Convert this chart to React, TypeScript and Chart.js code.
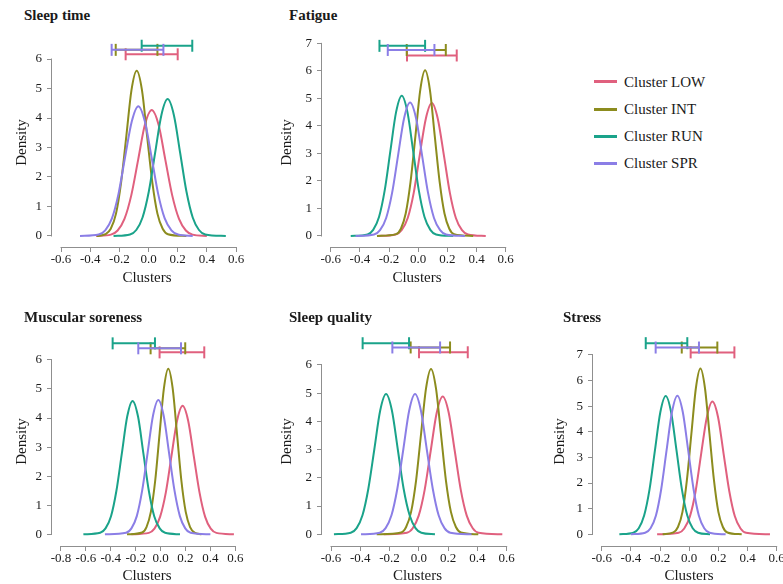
import React, { useEffect, useRef } from "react";
import { Chart, registerables } from "chart.js";

Chart.register(...registerables);

const SERIF = "'Liberation Serif', 'Times New Roman', serif";
const TEXT = "#1a1a1a";
const AXIS = "#8f8f8f";

const clusterNames = ["Cluster LOW", "Cluster INT", "Cluster RUN", "Cluster SPR"];
const clusterColors = ["#E0607E", "#8C8C1E", "#1AA38A", "#8B7EE6"];

const xTicksStd = [-0.6, -0.4, -0.2, 0, 0.2, 0.4, 0.6];
const xTicksWide = [-0.8, -0.6, -0.4, -0.2, 0, 0.2, 0.4, 0.6];
const yTicks6 = [0, 1, 2, 3, 4, 5, 6];
const yTicks7 = [0, 1, 2, 3, 4, 5, 6, 7];

// ---- Sleep time: posterior densities [x, density] ----
const sleepTimeLow = [[-0.36,0],[-0.258,0.047],[-0.212,0.187],[-0.165,0.578],[-0.118,1.386],[-0.071,2.59],[-0.025,3.768],[0.022,4.27],[0.069,3.768],[0.115,2.59],[0.162,1.386],[0.209,0.578],[0.256,0.187],[0.302,0.047],[0.40,0]];
const sleepTimeInt = [[-0.355,0],[-0.295,0.062],[-0.259,0.246],[-0.223,0.758],[-0.188,1.818],[-0.152,3.396],[-0.117,4.942],[-0.081,5.6],[-0.045,4.942],[-0.01,3.396],[0.026,1.818],[0.061,0.758],[0.097,0.246],[0.133,0.062],[0.26,0]];
const sleepTimeRun = [[-0.24,0],[-0.127,0.052],[-0.084,0.204],[-0.041,0.628],[0.002,1.507],[0.045,2.814],[0.088,4.095],[0.131,4.64],[0.174,4.095],[0.217,2.814],[0.26,1.507],[0.303,0.628],[0.346,0.204],[0.389,0.052],[0.53,0]];
const sleepTimeSpr = [[-0.47,0],[-0.342,0.049],[-0.297,0.193],[-0.251,0.595],[-0.206,1.429],[-0.161,2.669],[-0.115,3.883],[-0.07,4.4],[-0.025,3.883],[0.021,2.669],[0.066,1.429],[0.111,0.595],[0.157,0.193],[0.202,0.049],[0.303,0]];
const sleepTimeCI = [[-0.157,0.2],[-0.225,0.061],[-0.047,0.3],[-0.253,0.102]];
const sleepTimeCIy = [6.16, 6.31, 6.45, 6.31];

// ---- Fatigue ----
const fatigueLow = [[-0.28,0],[-0.155,0.054],[-0.114,0.212],[-0.072,0.654],[-0.031,1.568],[0.01,2.929],[0.052,4.263],[0.093,4.83],[0.134,4.263],[0.176,2.929],[0.217,1.568],[0.258,0.654],[0.3,0.212],[0.341,0.054],[0.463,0]];
const fatigueInt = [[-0.283,0],[-0.152,0.067],[-0.119,0.264],[-0.086,0.815],[-0.053,1.955],[-0.019,3.651],[0.014,5.313],[0.047,6.02],[0.08,5.313],[0.113,3.651],[0.147,1.955],[0.18,0.815],[0.213,0.264],[0.246,0.067],[0.377,0]];
const fatigueRun = [[-0.463,0],[-0.348,0.057],[-0.309,0.224],[-0.269,0.69],[-0.23,1.656],[-0.191,3.093],[-0.152,4.501],[-0.113,5.1],[-0.074,4.501],[-0.035,3.093],[0.004,1.656],[0.043,0.69],[0.083,0.224],[0.122,0.057],[0.24,0]];
const fatigueSpr = [[-0.43,0],[-0.303,0.054],[-0.262,0.213],[-0.22,0.656],[-0.179,1.575],[-0.138,2.942],[-0.097,4.28],[-0.056,4.85],[-0.015,4.28],[0.026,2.942],[0.067,1.575],[0.108,0.656],[0.15,0.213],[0.191,0.054],[0.32,0]];
const fatigueCI = [[-0.077,0.264],[-0.079,0.189],[-0.266,0.047],[-0.209,0.111]];
const fatigueCIy = [6.56, 6.76, 6.91, 6.76];

// ---- Muscular soreness ----
const sorenessLow = [[-0.235,0],[-0.094,0.049],[-0.049,0.194],[-0.004,0.598],[0.042,1.435],[0.087,2.681],[0.132,3.901],[0.177,4.42],[0.222,3.901],[0.267,2.681],[0.313,1.435],[0.358,0.598],[0.403,0.194],[0.448,0.049],[0.589,0]];
const sorenessInt = [[-0.27,0],[-0.148,0.063],[-0.113,0.25],[-0.078,0.771],[-0.043,1.851],[-0.008,3.457],[0.027,5.03],[0.062,5.7],[0.097,5.03],[0.132,3.457],[0.167,1.851],[0.202,0.771],[0.237,0.25],[0.272,0.063],[0.33,0]];
const sorenessRun = [[-0.62,0],[-0.485,0.051],[-0.442,0.202],[-0.398,0.621],[-0.355,1.49],[-0.311,2.784],[-0.268,4.051],[-0.225,4.59],[-0.181,4.051],[-0.138,2.784],[-0.094,1.49],[-0.051,0.621],[-0.007,0.202],[0.036,0.051],[0.156,0]];
const sorenessSpr = [[-0.447,0],[-0.277,0.051],[-0.234,0.203],[-0.191,0.625],[-0.148,1.5],[-0.104,2.802],[-0.061,4.077],[-0.018,4.62],[0.025,4.077],[0.068,2.802],[0.112,1.5],[0.155,0.625],[0.198,0.203],[0.241,0.051],[0.40,0]];
const sorenessCI = [[-0.008,0.351],[-0.08,0.198],[-0.385,-0.045],[-0.179,0.164]];
const sorenessCIy = [6.26, 6.4, 6.57, 6.4];

// ---- Sleep quality ----
const qualityLow = [[-0.24,0],[-0.082,0.054],[-0.042,0.214],[-0.001,0.66],[0.04,1.585],[0.081,2.96],[0.122,4.307],[0.163,4.88],[0.204,4.307],[0.245,2.96],[0.286,1.585],[0.327,0.66],[0.368,0.214],[0.408,0.054],[0.57,0]];
const qualityInt = [[-0.288,0],[-0.121,0.065],[-0.087,0.257],[-0.053,0.793],[-0.019,1.903],[0.015,3.554],[0.049,5.172],[0.083,5.86],[0.117,5.172],[0.151,3.554],[0.185,1.903],[0.219,0.793],[0.253,0.257],[0.287,0.065],[0.406,0]];
const qualityRun = [[-0.58,0],[-0.465,0.055],[-0.425,0.218],[-0.385,0.672],[-0.345,1.614],[-0.304,3.014],[-0.264,4.386],[-0.224,4.97],[-0.184,4.386],[-0.144,3.014],[-0.104,1.614],[-0.063,0.672],[-0.023,0.218],[0.017,0.055],[0.11,0]];
const qualitySpr = [[-0.395,0],[-0.267,0.055],[-0.227,0.218],[-0.187,0.672],[-0.147,1.614],[-0.106,3.014],[-0.066,4.386],[-0.026,4.97],[0.014,4.386],[0.054,3.014],[0.095,1.614],[0.135,0.672],[0.175,0.218],[0.215,0.055],[0.36,0]];
const qualityCI = [[0.001,0.334],[-0.056,0.213],[-0.384,-0.067],[-0.181,0.145]];
const qualityCIy = [6.45, 6.62, 6.77, 6.62];

// ---- Stress ----
const stressLow = [[-0.22,0],[-0.072,0.058],[-0.034,0.227],[0.005,0.701],[0.044,1.682],[0.082,3.142],[0.121,4.571],[0.159,5.18],[0.198,4.571],[0.236,3.142],[0.275,1.682],[0.313,0.701],[0.352,0.227],[0.39,0.058],[0.554,0]];
const stressInt = [[-0.182,0],[-0.108,0.072],[-0.077,0.284],[-0.046,0.875],[-0.016,2.101],[0.015,3.924],[0.046,5.71],[0.077,6.47],[0.108,5.71],[0.139,3.924],[0.17,2.101],[0.2,0.875],[0.231,0.284],[0.262,0.072],[0.36,0]];
const stressRun = [[-0.479,0],[-0.383,0.06],[-0.346,0.237],[-0.309,0.731],[-0.272,1.753],[-0.235,3.275],[-0.198,4.766],[-0.161,5.4],[-0.124,4.766],[-0.087,3.275],[-0.05,1.753],[-0.013,0.731],[0.024,0.237],[0.061,0.06],[0.143,0]];
const stressSpr = [[-0.40,0],[-0.302,0.06],[-0.265,0.238],[-0.228,0.732],[-0.192,1.757],[-0.155,3.281],[-0.118,4.774],[-0.081,5.41],[-0.044,4.774],[-0.007,3.281],[0.03,1.757],[0.066,0.732],[0.103,0.238],[0.14,0.06],[0.25,0]];
const stressCI = [[0.01,0.31],[-0.051,0.193],[-0.298,-0.013],[-0.23,0.067]];
const stressCIy = [7.1, 7.29, 7.46, 7.29];

type PanelCfg = {
  title: string;
  titleLeft: number;
  titleTop: number;
  curves: number[][][];
  ci: number[][];
  ciY: number[];
  xTicks: number[];
  yTicks: number[];
  xMin: number; xMax: number; yMin: number; yMax: number;
  left: number; top: number; w: number; h: number;
  yAxisW: number; xAxisH: number;
};

const PAD_TOP = 14;

const panels: PanelCfg[] = [
  { title: "Sleep time", titleLeft: 24, titleTop: 6,
    curves: [sleepTimeLow, sleepTimeInt, sleepTimeRun, sleepTimeSpr], ci: sleepTimeCI, ciY: sleepTimeCIy,
    xTicks: xTicksStd, yTicks: yTicks6, xMin: -0.662, xMax: 0.641, yMin: -0.373, yMax: 6.712,
    left: 15, top: 24, w: 241, h: 262, yAxisW: 37, xAxisH: 39 },
  { title: "Fatigue", titleLeft: 289, titleTop: 6,
    curves: [fatigueLow, fatigueInt, fatigueRun, fatigueSpr], ci: fatigueCI, ciY: fatigueCIy,
    xTicks: xTicksStd, yTicks: yTicks7, xMin: -0.66, xMax: 0.643, yMin: -0.4, yMax: 7.195,
    left: 280, top: 24, w: 246, h: 262, yAxisW: 42, xAxisH: 39 },
  { title: "Muscular soreness", titleLeft: 24, titleTop: 308,
    curves: [sorenessLow, sorenessInt, sorenessRun, sorenessSpr], ci: sorenessCI, ciY: sorenessCIy,
    xTicks: xTicksWide, yTicks: yTicks6, xMin: -0.872, xMax: 0.654, yMin: -0.403, yMax: 6.789,
    left: 15, top: 323, w: 241, h: 261, yAxisW: 37, xAxisH: 38 },
  { title: "Sleep quality", titleLeft: 289, titleTop: 308,
    curves: [qualityLow, qualityInt, qualityRun, qualitySpr], ci: qualityCI, ciY: qualityCIy,
    xTicks: xTicksStd, yTicks: yTicks6, xMin: -0.6615, xMax: 0.643, yMin: -0.415, yMax: 6.991,
    left: 280, top: 323, w: 247, h: 261, yAxisW: 42, xAxisH: 38 },
  { title: "Stress", titleLeft: 563, titleTop: 308,
    curves: [stressLow, stressInt, stressRun, stressSpr], ci: stressCI, ciY: stressCIy,
    xTicks: xTicksStd, yTicks: yTicks7, xMin: -0.6597, xMax: 0.657, yMin: -0.457, yMax: 7.701,
    left: 553, top: 323, w: 246, h: 261, yAxisW: 40, xAxisH: 38 },
];

const axisLinesPlugin = {
  id: "axisLines",
  afterDraw(chart: any) {
    const { ctx, chartArea, scales } = chart;
    const xs = scales.x;
    const ys = scales.y;
    const xt = xs.ticks;
    const yt = ys.ticks;
    ctx.save();
    ctx.strokeStyle = AXIS;
    ctx.lineWidth = 1;
    ctx.beginPath();
    const yb = Math.round(chartArea.bottom) + 0.5;
    ctx.moveTo(xs.getPixelForValue(xt[0].value) - 0.5, yb);
    ctx.lineTo(xs.getPixelForValue(xt[xt.length - 1].value) + 0.5, yb);
    const xl = Math.round(chartArea.left) - 0.5;
    ctx.moveTo(xl, ys.getPixelForValue(yt[0].value) + 0.5);
    ctx.lineTo(xl, ys.getPixelForValue(yt[yt.length - 1].value) - 0.5);
    ctx.stroke();
    ctx.restore();
  },
};

function Panel({ cfg }: { cfg: PanelCfg }) {
  const ref = useRef<HTMLCanvasElement>(null);
  useEffect(() => {
    if (!ref.current) return;
    const datasets: any[] = [];
    cfg.curves.forEach((c, i) => {
      datasets.push({
        data: c.map(([x, y]) => ({ x, y })),
        borderColor: clusterColors[i],
        backgroundColor: clusterColors[i],
        borderWidth: 2,
        pointRadius: 0,
        cubicInterpolationMode: "monotone",
        fill: false,
        order: 10 - i,
      });
    });
    cfg.ci.forEach(([lo, hi], i) => {
      datasets.push({
        data: [{ x: lo, y: cfg.ciY[i] }, { x: hi, y: cfg.ciY[i] }],
        borderColor: clusterColors[i],
        backgroundColor: clusterColors[i],
        borderWidth: 2,
        pointStyle: "line",
        pointRotation: 90,
        pointRadius: 6,
        pointBorderWidth: 2,
        pointBorderColor: clusterColors[i],
        fill: false,
        clip: false,
        order: 4 - i,
      });
    });
    const tickFont = { family: SERIF, size: 13 };
    const titleFont = { family: SERIF, size: 15, lineHeight: 1 };
    const chart = new Chart(ref.current, {
      type: "line",
      data: { datasets },
      plugins: [axisLinesPlugin],
      options: {
        responsive: false,
        animation: false,
        devicePixelRatio: 1,
        events: [],
        layout: { padding: { left: 0, right: 14, top: PAD_TOP, bottom: 0 } },
        plugins: {
          legend: { display: false },
          tooltip: { enabled: false },
          title: { display: false },
        },
        scales: {
          x: {
            type: "linear",
            min: cfg.xMin,
            max: cfg.xMax,
            afterBuildTicks: (s: any) => { s.ticks = cfg.xTicks.map((v) => ({ value: v })); },
            afterFit: (s: any) => { s.height = cfg.xAxisH; },
            grid: { drawOnChartArea: false, drawTicks: true, tickLength: 5, color: AXIS, lineWidth: 1 },
            border: { display: false },
            ticks: {
              padding: 0, color: TEXT, font: tickFont, autoSkip: false, maxRotation: 0,
              callback: (v: any) => Number(v).toFixed(1),
            },
            title: { display: true, text: "Clusters", color: TEXT, font: titleFont, padding: 0 },
          },
          y: {
            type: "linear",
            min: cfg.yMin,
            max: cfg.yMax,
            afterBuildTicks: (s: any) => { s.ticks = cfg.yTicks.map((v) => ({ value: v })); },
            afterFit: (s: any) => { s.width = cfg.yAxisW; },
            grid: { drawOnChartArea: false, drawTicks: true, tickLength: 5, color: AXIS, lineWidth: 1 },
            border: { display: false },
            ticks: {
              padding: 5, color: TEXT, font: tickFont, autoSkip: false,
              callback: (v: any) => String(Math.round(Number(v))),
            },
            title: { display: true, text: "Density", color: TEXT, font: titleFont, padding: 0 },
          },
        },
      } as any,
    });
    return () => chart.destroy();
  }, [cfg]);
  return (
    <canvas
      ref={ref}
      width={cfg.w}
      height={cfg.h}
      style={{ position: "absolute", left: cfg.left, top: cfg.top, width: cfg.w, height: cfg.h }}
    />
  );
}

export default function App() {
  const legendCenters = [81.7, 109.1, 136.3, 163.4];
  return (
    <div
      style={{
        position: "fixed", left: 0, top: 0, width: 783, height: 584,
        background: "#fff", overflow: "hidden", fontFamily: SERIF, color: TEXT,
      }}
    >
      {panels.map((p) => (
        <React.Fragment key={p.title}>
          <Panel cfg={p} />
          <div
            style={{
              position: "absolute", left: p.titleLeft, top: p.titleTop, fontSize: 15,
              lineHeight: "18px", fontWeight: "bold", whiteSpace: "nowrap",
            }}
          >
            {p.title}
          </div>
        </React.Fragment>
      ))}
      {clusterNames.map((n, i) => (
        <React.Fragment key={n}>
          <div
            style={{
              position: "absolute", left: 594, top: legendCenters[i] - 1.5, width: 23, height: 3,
              background: clusterColors[i],
            }}
          />
          <div
            style={{
              position: "absolute", left: 624, top: legendCenters[i] - 9, fontSize: 15,
              lineHeight: "18px", whiteSpace: "nowrap",
            }}
          >
            {n}
          </div>
        </React.Fragment>
      ))}
    </div>
  );
}
